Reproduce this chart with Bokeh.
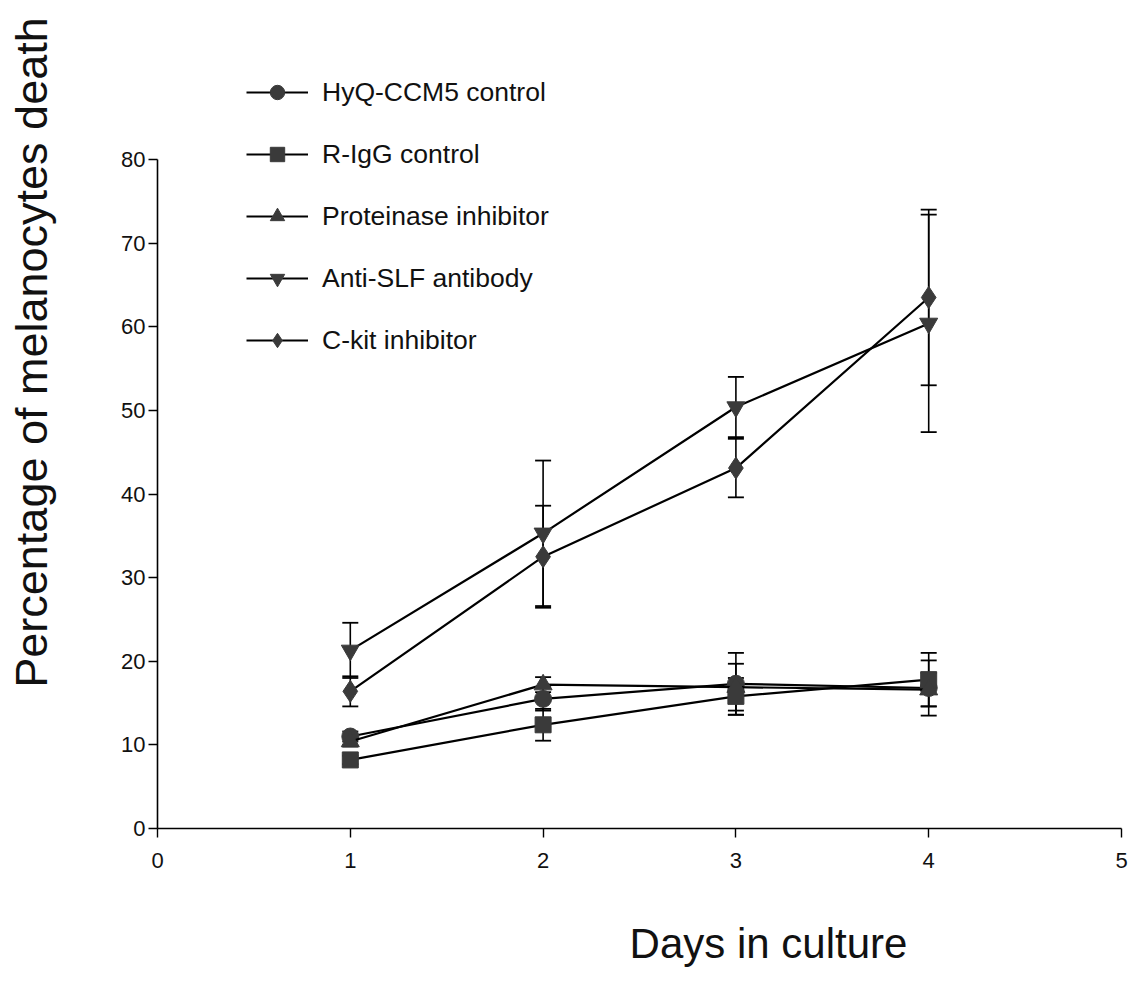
import math
from bokeh.plotting import figure
from bokeh.models import (Range1d, FixedTicker, Whisker, ColumnDataSource, Legend,
                          LegendItem, Label, TeeHead)
from bokeh.embed import file_html
from bokeh.resources import INLINE

# ---------------- data ----------------
days = [1, 2, 3, 4]
series_names = ["HyQ-CCM5 control", "R-IgG control", "Proteinase inhibitor",
                "Anti-SLF antibody", "C-kit inhibitor"]
hyq_mean = [11.0, 15.5, 17.3, 16.8]
hyq_err = [0.6, 1.4, 3.7, 3.3]
rigg_mean = [8.2, 12.4, 15.8, 17.8]
rigg_err = [0.5, 1.9, 2.2, 3.2]
prot_mean = [10.4, 17.2, 16.9, 16.6]
prot_err = [0.6, 0.9, 2.8, 2.0]
anti_mean = [21.3, 35.3, 50.4, 60.4]
anti_err = [3.3, 8.7, 3.6, 13.0]
ckit_mean = [16.4, 32.5, 43.1, 63.5]
ckit_err = [1.8, 6.1, 3.5, 10.5]
markers = ["circle", "square", "triangle", "inverted_triangle", "diamond"]
marker_sizes = [17, 16, 18, 18, 22]
x_ticks = [0, 1, 2, 3, 4, 5]
y_ticks = [0, 10, 20, 30, 40, 50, 60, 70, 80]
x_title = "Days in culture"
y_title = "Percentage of melanocytes death"

means = [hyq_mean, rigg_mean, prot_mean, anti_mean, ckit_mean]
errs = [hyq_err, rigg_err, prot_err, anti_err, ckit_err]

FONT = "Liberation Sans"
MARK = "#3a3a3a"

W, H = 1137, 982
# pixel placement of the axes box inside the page
X0_PX, X5_PX = 157, 1121
Y0_PX, Y80_PX = 828, 159
sx = (X5_PX - X0_PX) / 5.0
sy = (Y0_PX - Y80_PX) / 80.0
x_start = -X0_PX / sx
x_end = 5 + (W - X5_PX) / sx
y_start = -(H - Y0_PX) / sy
y_end = 80 + Y80_PX / sy

p = figure(width=W, height=H, output_backend="svg", toolbar_location=None,
           x_range=Range1d(x_start, x_end), y_range=Range1d(y_start, y_end),
           min_border=0)
p.outline_line_color = None
p.xgrid.visible = False
p.ygrid.visible = False
p.background_fill_color = "white"
p.border_fill_color = "white"

p.xaxis.fixed_location = 0
p.yaxis.fixed_location = 0
p.xaxis.bounds = (0, 5)
p.yaxis.bounds = (0, 80)
for ax, ticks in ((p.xaxis, x_ticks), (p.yaxis, y_ticks)):
    ax.ticker = FixedTicker(ticks=ticks)
    ax.minor_tick_line_color = None
    ax.major_tick_in = 0
    ax.major_tick_out = 9
    ax.axis_line_color = "black"
    ax.axis_line_width = 1.6
    ax.major_tick_line_color = "black"
    ax.major_tick_line_width = 1.4
    ax.major_label_text_font = FONT
    ax.major_label_text_font_size = "22px"
    ax.major_label_text_color = "#111111"
p.xaxis.major_label_standoff = 15
p.yaxis.major_label_standoff = 3

items = []
for name, m, e, mk, ms in zip(series_names, means, errs, markers, marker_sizes):
    src = ColumnDataSource(dict(x=days, y=m,
                                upper=[a + b for a, b in zip(m, e)],
                                lower=[a - b for a, b in zip(m, e)]))
    w = Whisker(base="x", upper="upper", lower="lower", source=src,
                line_color="black", line_width=1.6,
                upper_head=TeeHead(size=16, line_color="black", line_width=1.8),
                lower_head=TeeHead(size=16, line_color="black", line_width=1.8))
    p.add_layout(w)
    ln = p.line("x", "y", source=src, line_color="black", line_width=2.2)
    sc = p.scatter("x", "y", source=src, marker=mk, size=ms,
                   fill_color=MARK, line_color=MARK)
    items.append(LegendItem(label=name, renderers=[ln, sc]))

legend = Legend(items=items, location=(246, H - 358), orientation="vertical",
                glyph_width=62, glyph_height=36, label_height=36,
                label_standoff=14, spacing=26, padding=0, margin=0,
                border_line_color=None, background_fill_alpha=0,
                label_text_font=FONT, label_text_font_size="26.5px",
                label_text_color="#111111")
p.add_layout(legend)

p.add_layout(Label(x=(768 - X0_PX) / sx, y=(Y0_PX - 943) / sy, text=x_title,
                   text_font=FONT, text_font_size="42px", text_align="center",
                   text_baseline="middle", text_color="#111111"))
p.add_layout(Label(x=(31 - X0_PX) / sx, y=(Y0_PX - 352) / sy, text=y_title,
                   text_font=FONT, text_font_size="45px", text_align="center",
                   text_baseline="middle", angle=math.pi / 2,
                   text_color="#111111"))

open("out.html", "w").write(file_html(p, INLINE))
